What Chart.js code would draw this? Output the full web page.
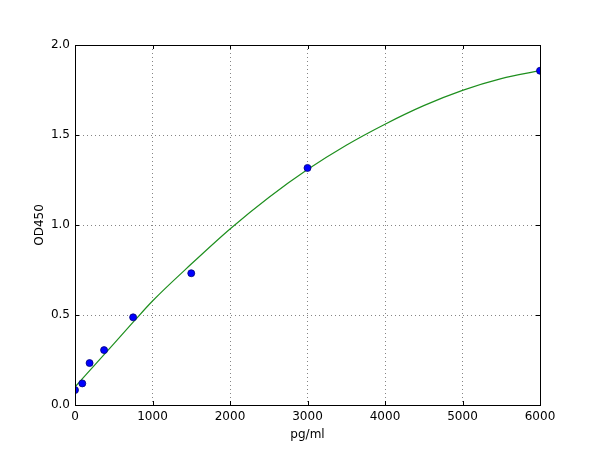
<!DOCTYPE html>
<html>
<head>
<meta charset="utf-8">
<script src="https://cdn.jsdelivr.net/npm/chart.js@4/dist/chart.umd.min.js"></script>
<style>
html, body { margin: 0; padding: 0; background: #fff; }
#wrap { width: 600px; height: 450px; }
</style>
</head>
<body>
<div id="wrap"><canvas id="myChart" width="600" height="450"></canvas></div>
<script>
// standards (measured points)
let std_conc = [0, 94, 188, 375, 750, 1500, 3000, 6000];
let std_od = [0.083, 0.12, 0.233, 0.305, 0.487, 0.732, 1.317, 1.857];

// fitted curve
let fit_conc = [0, 250, 500, 750, 1000, 1500, 2000, 2500, 3000, 3500, 4000, 4500, 5000, 5500, 6000];
let fit_od = [0.10, 0.22, 0.34, 0.46, 0.578, 0.783, 0.978, 1.153, 1.308, 1.443, 1.560, 1.663, 1.748, 1.813, 1.858];

let x_ticks = [0, 1000, 2000, 3000, 4000, 5000, 6000];
let y_ticks = [0.0, 0.5, 1.0, 1.5, 2.0];

let myChart;

function toXY(xs, ys) {
	let out = [];
	for (let i = 0; i < xs.length; i++) out.push({x: xs[i], y: ys[i]});
	return out;
}

// frame + inward ticks like the old matplotlib style
const frameTicks = {
	id: 'frameTicks',
	afterDraw(chart) {
		const ctx = chart.ctx;
		const a = chart.chartArea;
		const sx = chart.scales.x, sy = chart.scales.y;
		ctx.save();
		ctx.strokeStyle = '#000';
		ctx.lineWidth = 1;
		ctx.beginPath();
		for (let v of x_ticks) {
			let px = Math.round(sx.getPixelForValue(v)) + 0.5;
			ctx.moveTo(px, a.bottom); ctx.lineTo(px, a.bottom - 4);
			ctx.moveTo(px, a.top); ctx.lineTo(px, a.top + 4);
		}
		for (let v of y_ticks) {
			let py = Math.round(sy.getPixelForValue(v)) + 0.5;
			ctx.moveTo(a.left, py); ctx.lineTo(a.left + 4, py);
			ctx.moveTo(a.right, py); ctx.lineTo(a.right - 4, py);
		}
		ctx.stroke();
		ctx.strokeRect(Math.round(a.left) + 0.5, Math.round(a.top) + 0.5, Math.round(a.right - a.left), Math.round(a.bottom - a.top));
		ctx.restore();
	}
};

window.onload = function() {
	Chart.defaults.font.family = "'DejaVu Sans', sans-serif";
	Chart.defaults.font.size = 12;
	Chart.defaults.color = '#000';
	const ctx = document.getElementById('myChart').getContext('2d');
	myChart = new Chart(ctx, {
		type: 'scatter',
		data: {
			datasets: [{
				data: toXY(std_conc, std_od),
				pointRadius: 3.5,
				pointBackgroundColor: '#0000ff',
				pointBorderColor: '#00007a',
				pointBorderWidth: 0.8,
				showLine: false,
				clip: 0,
				order: 0
			}, {
				data: toXY(fit_conc, fit_od),
				showLine: true,
				pointRadius: 0,
				borderColor: '#1e8f1e',
				borderWidth: 1.2,
				cubicInterpolationMode: 'monotone',
				fill: false,
				clip: 0,
				order: 1
			}]
		},
		options: {
			responsive: false,
			animation: false,
			layout: { padding: { left: 0, top: 45, right: 60, bottom: 0 } },
			plugins: { legend: { display: false }, tooltip: { enabled: false } },
			scales: {
				x: {
					type: 'linear',
					min: 0, max: 6000,
					afterFit: function(scale) { scale.height = 45; },
					afterBuildTicks: function(scale) { scale.ticks = x_ticks.map(v => ({value: v})); },
					grid: { color: '#666', lineWidth: 0.8, drawTicks: false },
					border: { display: false, dash: [1, 3] },
					ticks: { padding: 5, maxRotation: 0, callback: function(v) { return String(v); } },
					title: { display: true, text: 'pg/ml', padding: { top: 0, bottom: 8 } }
				},
				y: {
					min: 0, max: 2.0,
					afterFit: function(scale) { scale.width = 75; },
					afterBuildTicks: function(scale) { scale.ticks = y_ticks.map(v => ({value: v})); },
					grid: { color: '#666', lineWidth: 0.8, drawTicks: false },
					border: { display: false, dash: [1, 3] },
					ticks: { padding: 5, callback: function(v) { return v.toFixed(1); } },
					title: { display: true, text: 'OD450', padding: { top: 33, bottom: 0 } }
				}
			}
		},
		plugins: [frameTicks]
	});
}
</script>
</body>
</html>
